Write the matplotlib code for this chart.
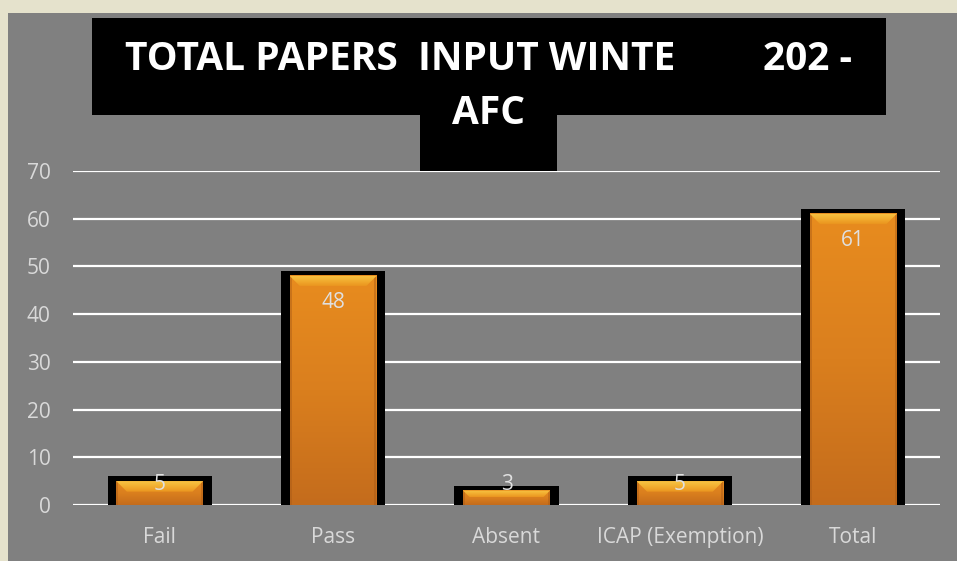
import matplotlib
matplotlib.use("Agg")
import matplotlib.pyplot as plt
from matplotlib.patches import Rectangle, Polygon
from matplotlib.colors import LinearSegmentedColormap
import numpy as np

categories = ["Fail", "Pass", "Absent", "ICAP (Exemption)", "Total"]
values = [5, 48, 3, 5, 61]
yticks = [0, 10, 20, 30, 40, 50, 60, 70]
title_line1_left = "TOTAL PAPERS  INPUT WINTE"
title_line1_right = "202 -"
title_line2 = "AFC"

W, H = 957, 561
fig = plt.figure(figsize=(W / 100, H / 100), dpi=100)
fig.patch.set_facecolor("#E5E2CC")

def px_rect(x0, y0, x1, y1, **kw):
    # pixel coords with origin at top-left
    return Rectangle((x0 / W, 1 - y1 / H), (x1 - x0) / W, (y1 - y0) / H,
                     transform=fig.transFigure, **kw)

# gray panel
fig.patches.append(px_rect(8, 13, 957, 561, facecolor="#808080", edgecolor="none", zorder=-5))

ax = fig.add_axes([73 / W, 56 / H, (940 - 73) / W, (390 - 56) / H])
ax.set_zorder(2)
ax.set_facecolor("none")
for s in ax.spines.values():
    s.set_visible(False)
ax.set_yticks(yticks)
ax.yaxis.grid(True, color="white", linewidth=1.6)
ax.set_axisbelow(True)
ax.tick_params(axis="both", length=0, colors="#D9D9D9", labelsize=15)
ax.tick_params(axis="y", pad=16)
ax.tick_params(axis="x", pad=16)
ax.set_xticks(range(len(categories)))
ax.set_xticklabels(categories)
for lab in ax.get_xticklabels() + ax.get_yticklabels():
    lab.set_fontfamily("Open Sans")
    lab.set_color("#D9D9D9")

x = np.arange(len(categories))
outer_w = 0.60
inner_w = 0.50
top_pad = 1.05
x_per_y = 4.77 / 173.25  # converts a y-unit length into x-units for 45° bevel corners

# black frames
ax.bar(x, np.array(values) + top_pad, width=outer_w, color="black", linewidth=0, zorder=3)

body_cmap = LinearSegmentedColormap.from_list("org", ["#C46C1C", "#DA7F1E", "#E88C1F"])
bev_cmap = LinearSegmentedColormap.from_list("bev", ["#EA941F", "#F2AE30", "#F7C444"])
grad = np.linspace(0, 1, 256).reshape(-1, 1)
for xi, v in zip(x, values):
    ax.imshow(grad, extent=[xi - inner_w / 2, xi + inner_w / 2, 0, v], origin="lower",
              aspect="auto", cmap=body_cmap, zorder=4, interpolation="bilinear")
    # side shading
    for side in (-1, 1):
        ax.add_patch(Rectangle((xi + side * inner_w / 2 - (0.012 if side > 0 else 0), 0),
                               0.012, v, facecolor="#A85A16", alpha=0.45,
                               edgecolor="none", zorder=5))
    bev = min(2.2, v * 0.45)
    ins = bev * x_per_y
    poly = Polygon([[xi - inner_w / 2, v], [xi + inner_w / 2, v],
                    [xi + inner_w / 2 - ins, v - bev], [xi - inner_w / 2 + ins, v - bev]],
                   closed=True, facecolor="none", edgecolor="none", zorder=6)
    ax.add_patch(poly)
    im = ax.imshow(grad, extent=[xi - inner_w / 2, xi + inner_w / 2, v - bev, v], origin="lower",
                   aspect="auto", cmap=bev_cmap, zorder=6, interpolation="bilinear")
    im.set_clip_path(poly)
    ly = max(v - 5.66, 4.4)
    ax.text(xi, ly, str(v), ha="center", va="center", fontsize=15, color="#E0E0E0",
            family="Open Sans", zorder=7)

ax.set_xlim(-0.5, len(categories) - 0.5)
ax.set_ylim(0, 70)

# title box (drawn above the axes)
fig.patches.append(px_rect(92, 18, 886, 115, facecolor="black", edgecolor="none", zorder=10))
fig.patches.append(px_rect(420, 113, 557, 171, facecolor="black", edgecolor="none", zorder=10))
fig.text(125 / W, 1 - 60 / H, title_line1_left, ha="left", va="center", fontsize=28,
         fontweight="bold", color="white", family="Open Sans", zorder=11)
fig.text(852 / W, 1 - 60 / H, title_line1_right, ha="right", va="center", fontsize=28,
         fontweight="bold", color="white", family="Open Sans", zorder=11)
fig.text(488 / W, 1 - 113 / H, title_line2, ha="center", va="center", fontsize=28,
         fontweight="bold", color="white", family="Open Sans", zorder=11)

fig.savefig("out.png", dpi=100, facecolor=fig.get_facecolor())
